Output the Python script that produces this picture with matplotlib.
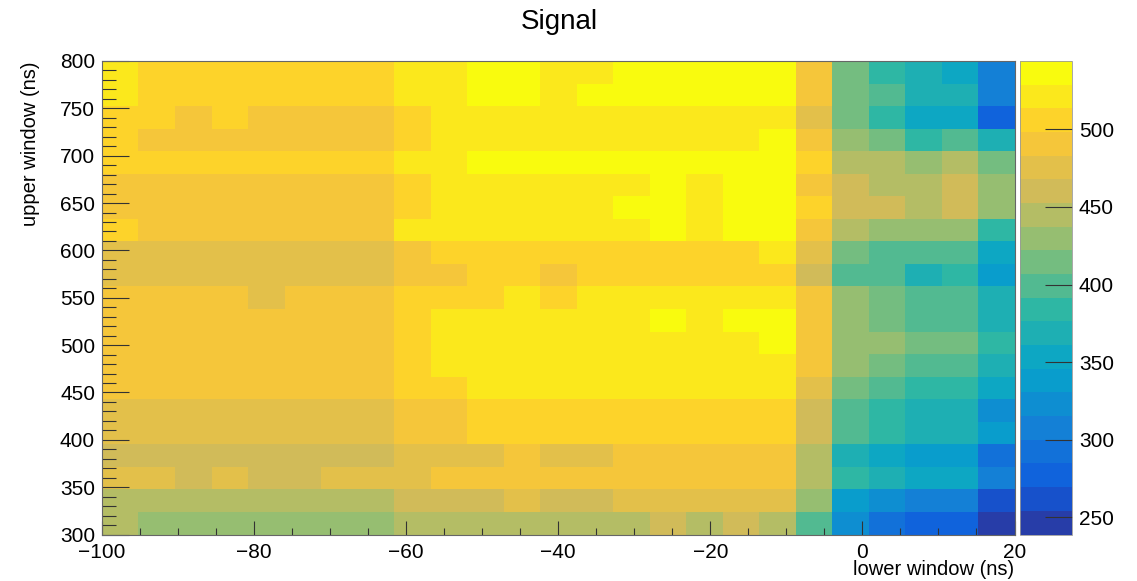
import numpy as np
import matplotlib
matplotlib.use('Agg')
import matplotlib.pyplot as plt
from matplotlib.colors import LinearSegmentedColormap, ListedColormap, BoundaryNorm

plt.rcParams['font.family'] = ['Liberation Sans', 'DejaVu Sans']

# bin edges of the 2D histogram
x_edges = np.linspace(-100, 20, 26)   # lower window (ns), 25 bins
y_edges = np.linspace(300, 800, 22)   # upper window (ns), 21 bins

# signal per bin, rows from upper window = 800 (top) down to 300 (bottom)
signal_rows = [
    [521, 506, 506, 506, 506, 506, 506, 506, 521, 521, 544, 536, 521, 521, 536, 536, 536, 536, 536, 490, 414, 384, 369, 353, 308],
    [521, 506, 506, 506, 506, 506, 506, 506, 521, 521, 536, 536, 521, 536, 536, 536, 536, 536, 536, 490, 414, 399, 369, 369, 308],
    [506, 506, 490, 506, 490, 490, 490, 490, 506, 521, 521, 521, 521, 521, 521, 521, 521, 521, 521, 475, 414, 384, 353, 353, 277],
    [506, 490, 490, 490, 490, 490, 490, 490, 506, 521, 521, 521, 521, 521, 521, 521, 521, 521, 536, 490, 429, 414, 384, 399, 369],
    [506, 506, 506, 506, 506, 506, 506, 506, 521, 521, 536, 536, 536, 536, 536, 536, 536, 536, 536, 506, 445, 445, 429, 445, 414],
    [490, 490, 490, 490, 490, 490, 490, 490, 506, 521, 521, 521, 521, 521, 521, 536, 521, 536, 536, 490, 460, 445, 445, 460, 429],
    [490, 490, 490, 490, 490, 490, 490, 490, 506, 521, 521, 521, 521, 521, 536, 536, 521, 536, 536, 506, 460, 460, 445, 460, 429],
    [506, 490, 490, 490, 490, 490, 490, 490, 521, 521, 521, 521, 521, 521, 521, 536, 521, 536, 536, 490, 445, 429, 429, 429, 384],
    [475, 475, 475, 475, 475, 475, 475, 475, 490, 506, 506, 506, 506, 506, 506, 506, 506, 506, 521, 475, 414, 399, 399, 399, 353],
    [475, 475, 475, 475, 475, 475, 475, 475, 490, 490, 506, 506, 490, 506, 506, 506, 506, 506, 506, 460, 399, 399, 369, 384, 338],
    [490, 490, 490, 490, 475, 490, 490, 490, 506, 506, 506, 521, 506, 521, 521, 521, 521, 521, 521, 490, 429, 414, 399, 399, 369],
    [490, 490, 490, 490, 490, 490, 490, 490, 506, 521, 521, 521, 521, 521, 521, 536, 521, 536, 536, 490, 429, 414, 399, 399, 369],
    [490, 490, 490, 490, 490, 490, 490, 490, 506, 521, 521, 521, 521, 521, 521, 521, 521, 521, 536, 490, 429, 429, 414, 414, 384],
    [490, 490, 490, 490, 490, 490, 490, 490, 506, 521, 521, 521, 521, 521, 521, 521, 521, 521, 521, 490, 429, 414, 399, 399, 369],
    [490, 490, 490, 490, 490, 490, 490, 490, 506, 506, 521, 521, 521, 521, 521, 521, 521, 521, 521, 475, 414, 399, 384, 384, 353],
    [475, 475, 475, 475, 475, 475, 475, 475, 490, 490, 506, 506, 506, 506, 506, 506, 506, 506, 506, 460, 399, 384, 369, 369, 323],
    [475, 475, 475, 475, 475, 475, 475, 475, 490, 490, 506, 506, 506, 506, 506, 506, 506, 506, 506, 460, 399, 384, 369, 369, 338],
    [460, 460, 460, 460, 460, 460, 460, 460, 475, 475, 475, 490, 475, 475, 490, 490, 490, 490, 490, 445, 369, 353, 338, 338, 293],
    [475, 475, 460, 475, 460, 460, 475, 475, 475, 490, 490, 490, 490, 490, 490, 490, 490, 490, 490, 445, 384, 369, 353, 353, 308],
    [445, 445, 445, 445, 445, 445, 445, 445, 460, 460, 460, 475, 460, 460, 475, 475, 475, 475, 475, 429, 338, 323, 308, 308, 262],
    [445, 429, 429, 429, 429, 429, 429, 429, 445, 445, 445, 445, 445, 445, 445, 460, 445, 460, 445, 399, 323, 293, 277, 277, 239],
]

cbar_ticks = [250, 300, 350, 400, 450, 500]

# ROOT kBird palette
bird_stops = [0.0, 0.125, 0.25, 0.375, 0.5, 0.625, 0.75, 0.875, 1.0]
bird_r = [0.2082, 0.0592, 0.0780, 0.0232, 0.1802, 0.5301, 0.8186, 0.9956, 0.9764]
bird_g = [0.1664, 0.3599, 0.5041, 0.6419, 0.7178, 0.7492, 0.7328, 0.7862, 0.9832]
bird_b = [0.5293, 0.8684, 0.8385, 0.7914, 0.6425, 0.4662, 0.3499, 0.1968, 0.0539]
bird = LinearSegmentedColormap.from_list(
    'bird', list(zip(bird_stops, zip(bird_r, bird_g, bird_b))), N=255)

ncont = 20
idx = [int((i + 0.99) * 255 / ncont) for i in range(ncont)]
cmap = ListedColormap([bird(k) for k in idx])

z = np.array(signal_rows[::-1], dtype=float)
zmin, zmax = z.min(), z.max()
levels = np.linspace(zmin, zmax, ncont + 1)
norm = BoundaryNorm(levels, ncont)

fig = plt.figure(figsize=(11.37, 5.81), dpi=100)
ax = fig.add_axes([102 / 1137, 1 - 534.5 / 581, 912.5 / 1137, 473.5 / 581])
mesh = ax.pcolormesh(x_edges, y_edges, z, cmap=cmap, norm=norm)

ax.set_xlim(-100, 20)
ax.set_ylim(300, 800)
ax.set_xticks(np.arange(-100, 21, 20))
ax.set_xticks(np.arange(-100, 21, 5), minor=True)
ax.set_yticks(np.arange(300, 801, 50))
ax.set_yticks(np.arange(300, 801, 10), minor=True)
ax.xaxis.set_major_formatter(plt.FuncFormatter(lambda v, p: f"{v:g}".replace('-', '\u2212')))
ax.tick_params(axis='x', which='major', direction='in', length=10, width=0.8,
               color='#333333', labelsize=15, pad=6)
ax.tick_params(axis='x', which='minor', direction='in', length=5, width=0.8, color='#333333')
ax.tick_params(axis='y', which='major', direction='in', length=19.5, width=0.8,
               color='#333333', labelsize=15, pad=5)
ax.tick_params(axis='y', which='minor', direction='in', length=10, width=0.8, color='#333333')
for s in ax.spines.values():
    s.set_linewidth(0.8)
    s.set_color('#666666')

ax.set_ylabel('upper window (ns)', fontsize=14.5, loc='top')
ax.yaxis.set_label_coords(-0.068, 1.0)
ax.set_xlabel('lower window (ns)', fontsize=14.5, loc='right')
ax.xaxis.set_label_coords(1.0, -0.053)

fig.text(559 / 1137, 1 - 22 / 581, 'Signal', fontsize=20, ha='center', va='center')

cax = fig.add_axes([1020 / 1137, 1 - 534.5 / 581, 52 / 1137, 473.5 / 581])
cb = fig.colorbar(mesh, cax=cax, ticks=cbar_ticks)
cb.outline.set_linewidth(0.6)
cb.outline.set_edgecolor('#999999')
cax.tick_params(direction='in', length=19.5, width=0.8, color='#333333', labelsize=15, pad=5)
cax.minorticks_off()

plt.savefig('out.png', dpi=100)
